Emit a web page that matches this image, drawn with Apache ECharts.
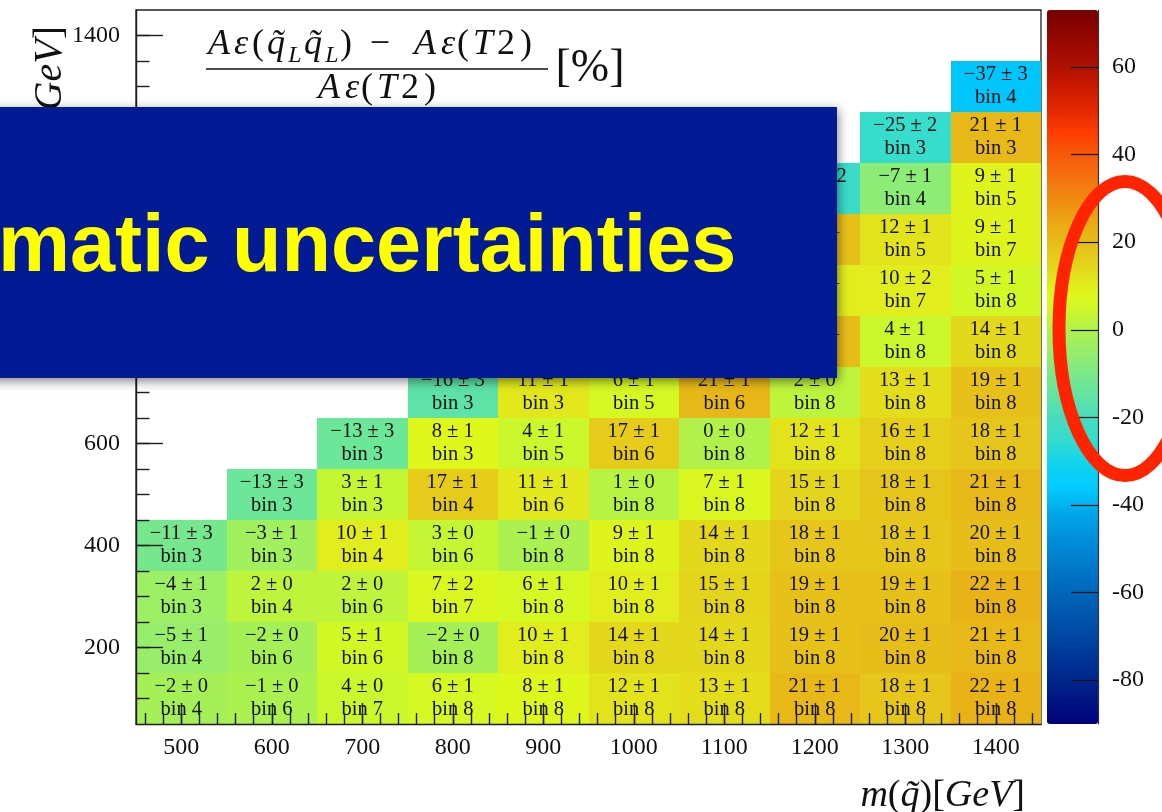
<!DOCTYPE html>
<html>
<head>
<meta charset="utf-8">
<title>Acceptance difference map</title>
<script src="https://cdn.jsdelivr.net/npm/echarts@6.0.0/dist/echarts.min.js"></script>
<style>
  html, body { margin: 0; padding: 0; background: #ffffff; }
  #chart { width: 1162px; height: 812px; }
</style>
</head>
<body>
<div id="chart"></div>
<script>
// Bin centres in GeV: squark mass (x) and LSP mass (y)
const squarkMass = [500, 600, 700, 800, 900, 1000, 1100, 1200, 1300, 1400];
const lspMass = [100, 200, 300, 400, 500, 600, 700, 800, 900, 1000, 1100, 1200, 1300];

// Relative difference of acceptance x efficiency [%], one row per LSP mass (null = no point)
const diffPct = [
  [-2, -1, 4, 6, 8, 12, 13, 21, 18, 22],
  [-5, -2, 5, -2, 10, 14, 14, 19, 20, 21],
  [-4, 2, 2, 7, 6, 10, 15, 19, 19, 22],
  [-11, -3, 10, 3, -1, 9, 14, 18, 18, 20],
  [null, -13, 3, 17, 11, 1, 7, 15, 18, 21],
  [null, null, -13, 8, 4, 17, 0, 12, 16, 18],
  [null, null, null, -16, 11, 6, 21, 2, 13, 19],
  [null, null, null, null, -15, 10, 5, 20, 4, 14],
  [null, null, null, null, null, -15, 9, 10, 10, 5],
  [null, null, null, null, null, null, -18, 19, 12, 9],
  [null, null, null, null, null, null, null, -24, -7, 9],
  [null, null, null, null, null, null, null, null, -25, 21],
  [null, null, null, null, null, null, null, null, null, -37]
];

// Statistical uncertainty on the difference [%]
const diffErr = [
  [0, 0, 0, 1, 1, 1, 1, 1, 1, 1],
  [1, 0, 1, 0, 1, 1, 1, 1, 1, 1],
  [1, 0, 0, 2, 1, 1, 1, 1, 1, 1],
  [3, 1, 1, 0, 0, 1, 1, 1, 1, 1],
  [null, 3, 1, 1, 1, 0, 1, 1, 1, 1],
  [null, null, 3, 1, 1, 1, 0, 1, 1, 1],
  [null, null, null, 3, 1, 1, 1, 0, 1, 1],
  [null, null, null, null, 3, 1, 1, 1, 1, 1],
  [null, null, null, null, null, 3, 1, 1, 2, 1],
  [null, null, null, null, null, null, 3, 1, 1, 1],
  [null, null, null, null, null, null, null, 2, 1, 1],
  [null, null, null, null, null, null, null, null, 2, 1],
  [null, null, null, null, null, null, null, null, null, 3]
];

// Most sensitive signal-region bin for each point
const signalBin = [
  [4, 6, 7, 8, 8, 8, 8, 8, 8, 8],
  [4, 6, 6, 8, 8, 8, 8, 8, 8, 8],
  [3, 4, 6, 7, 8, 8, 8, 8, 8, 8],
  [3, 3, 4, 6, 8, 8, 8, 8, 8, 8],
  [null, 3, 3, 4, 6, 8, 8, 8, 8, 8],
  [null, null, 3, 3, 5, 6, 8, 8, 8, 8],
  [null, null, null, 3, 3, 5, 6, 8, 8, 8],
  [null, null, null, null, 3, 3, 5, 6, 8, 8],
  [null, null, null, null, null, 3, 3, 5, 7, 8],
  [null, null, null, null, null, null, 3, 4, 5, 7],
  [null, null, null, null, null, null, null, 3, 4, 5],
  [null, null, null, null, null, null, null, null, 3, 3],
  [null, null, null, null, null, null, null, null, null, 4]
];

// Axis ticks
const xMajorTicks = [500, 600, 700, 800, 900, 1000, 1100, 1200, 1300, 1400];
const yMajorTicks = [200, 400, 600, 800, 1000, 1200, 1400];
const zTicks = [-80, -60, -40, -20, 0, 20, 40, 60];
const zRange = [-90, 73];

const xMinorTicks = [];
for (let v = 460; v <= 1440; v += 20) xMinorTicks.push(v);
const yMinorTicks = [];
for (let v = 100; v <= 1400; v += 50) yMinorTicks.push(v);

// Rainbow palette anchors (value, colour)
const paletteAnchors = [
  [-90, '#00007a'], [-80, '#00268a'], [-70, '#0046a2'], [-60, '#0066ba'],
  [-50, '#0086d2'], [-42, '#00a6e8'], [-36, '#00ccff'], [-30, '#14d4ec'],
  [-25, '#36dccc'], [-20, '#48dcbc'], [-15, '#62e4a2'], [-10, '#7ce888'],
  [-5, '#98ee6a'], [0, '#b0f24a'], [5, '#d2f826'], [8, '#def81c'],
  [11, '#e2e81c'], [14, '#e4d81c'], [18, '#e6c61a'], [21, '#e8b818'],
  [25, '#eca414'], [30, '#f08a10'], [35, '#f47010'], [40, '#f85a08'],
  [45, '#ff3c00'], [50, '#e42800'], [55, '#cc1a00'], [60, '#b01000'],
  [66, '#960600'], [73, '#760000']
];

function hexRgb(h) {
  return [parseInt(h.slice(1, 3), 16), parseInt(h.slice(3, 5), 16), parseInt(h.slice(5, 7), 16)];
}
function paletteAt(v) {
  for (let i = 0; i < paletteAnchors.length - 1; i++) {
    const [v0, c0] = paletteAnchors[i];
    const [v1, c1] = paletteAnchors[i + 1];
    if (v >= v0 && v <= v1) {
      const t = (v - v0) / (v1 - v0);
      const a = hexRgb(c0), b = hexRgb(c1);
      const m = a.map((x, k) => Math.round(x + (b[k] - x) * t));
      return 'rgb(' + m.join(',') + ')';
    }
  }
  return paletteAnchors[paletteAnchors.length - 1][1];
}
const paletteColors = [];
for (let v = zRange[0]; v <= zRange[1] + 1e-9; v += 0.5) paletteColors.push(paletteAt(v));

// Flatten the table into [x, y, diff, err, bin] cells
const cells = [];
lspMass.forEach((m, r) => {
  squarkMass.forEach((q, c) => {
    const d = diffPct[r][c];
    if (d === null) return;
    cells.push([q, m, d, diffErr[r][c], signalBin[r][c]]);
  });
});

const SERIF = '"Liberation Serif", "Times New Roman", serif';
const INK = '#111111';

function signed(v) {
  return v < 0 ? '\u2212' + (-v) : String(v);
}

function textEl(text, x, y, size, italic) {
  return {
    type: 'text', x: x, y: y, z: 20,
    style: {
      text: text,
      font: (italic ? 'italic ' : '') + size + 'px ' + SERIF,
      fill: INK,
      align: 'center', verticalAlign: 'middle',
      textAlign: 'center', textVerticalAlign: 'middle'
    }
  };
}

// Fraction title: numerator, bar, denominator and unit
const numMid = 45, subMid = 56, denMid = 89, fs = 36, sub = 24;
const titleParts = [
  ['A', 219, numMid, fs, true], ['\u03b5', 241, numMid, fs, true], ['(', 258, numMid, fs, false],
  ['q\u0303', 276, numMid, fs, true], ['L', 295, subMid, sub, true],
  ['q\u0303', 313, numMid, fs, true], ['L', 332, subMid, sub, true], [')', 346, numMid, fs, false],
  ['\u2212', 380, numMid, fs, false],
  ['A', 425, numMid, fs, true], ['\u03b5', 448, numMid, fs, true], ['(', 463, numMid, fs, false],
  ['T', 483, numMid, fs, true], ['2', 506, numMid, fs, false], [')', 526, numMid, fs, false],
  ['A', 329, denMid, fs, true], ['\u03b5', 352, denMid, fs, true], ['(', 367, denMid, fs, false],
  ['T', 387, denMid, fs, true], ['2', 410, denMid, fs, false], [')', 430, denMid, fs, false],
  ['[%]', 590, 69, 46, false]
];

const graphics = [
  // frame (top and right edges show where there are no cells)
  { type: 'rect', z: 0, shape: { x: 136, y: 10, width: 905, height: 714 },
    style: { fill: 'none', stroke: '#222', lineWidth: 1.3 } },
  { type: 'line', z: 20, shape: { x1: 206, y1: 69, x2: 548, y2: 69 },
    style: { stroke: INK, lineWidth: 1.6 } }
];
titleParts.forEach(p => graphics.push(textEl(p[0], p[1], p[2], p[3], p[4])));

// axis titles
graphics.push({
  type: 'text', x: 1025, y: 796, z: 20,
  style: {
    text: '{i|m}{r|(}{i|q\u0303}{r|)[}{i|GeV}{r|]}',
    align: 'right', verticalAlign: 'middle', textAlign: 'right', textVerticalAlign: 'middle',
    fill: INK,
    rich: {
      i: { fontFamily: SERIF, fontSize: 38, fontStyle: 'italic', fill: INK },
      r: { fontFamily: SERIF, fontSize: 38, fill: INK }
    }
  }
});
graphics.push({
  type: 'text', x: 50, y: 26, rotation: Math.PI / 2, z: 20,
  style: {
    text: '{i|m}{r|(}{i|\u03c7\u0303}{r|\u2070\u2081)[}{i|GeV}{r|]}',
    align: 'right', verticalAlign: 'middle', textAlign: 'right', textVerticalAlign: 'middle',
    fill: INK,
    rich: {
      i: { fontFamily: SERIF, fontSize: 40, fontStyle: 'italic', fill: INK },
      r: { fontFamily: SERIF, fontSize: 40, fill: INK }
    }
  }
});

// slide banner laid over the plot
graphics.push({
  type: 'rect', z: 50, shape: { x: -20, y: 107, width: 857, height: 271 },
  style: { fill: '#021a94', shadowBlur: 10, shadowOffsetY: 3, shadowOffsetX: 1, shadowColor: 'rgba(0,0,0,0.5)' }
});
graphics.push({
  type: 'text', x: -2, y: 249, z: 51,
  style: {
    text: 'matic uncertainties',
    font: 'bold 81px "Liberation Sans", Arial, sans-serif',
    fill: '#ffff00',
    align: 'left', verticalAlign: 'middle', textAlign: 'left', textVerticalAlign: 'middle'
  }
});
// highlight ring around the colour scale
graphics.push({
  type: 'ellipse', z: 60, shape: { cx: 1125, cy: 328.5, rx: 66, ry: 147 },
  style: { fill: 'none', stroke: '#ff2400', lineWidth: 13 }
});

const axisLineStyle = { color: '#1e1e1e', width: 1.4 };
const labelStyle = { fontFamily: SERIF, fontSize: 24, color: INK };

const option = {
  animation: false,
  backgroundColor: '#ffffff',
  grid: [
    { left: 136, top: 10, width: 905, height: 714, outerBoundsMode: 'none', containLabel: false },
    { left: 1047, top: 10, width: 51, height: 714, outerBoundsMode: 'none', containLabel: false }
  ],
  xAxis: [
    {
      gridIndex: 0, type: 'value', min: 450, max: 1450, position: 'bottom', z: 5,
      axisLine: { show: true, onZero: false, lineStyle: axisLineStyle },
      axisTick: { show: true, inside: true, length: 21, customValues: xMajorTicks, lineStyle: axisLineStyle },
      axisLabel: Object.assign({ customValues: xMajorTicks, margin: 12, formatter: v => String(v) }, labelStyle),
      splitLine: { show: false }
    },
    {
      gridIndex: 0, type: 'value', min: 450, max: 1450, position: 'bottom', z: 5,
      axisLine: { show: false, onZero: false },
      axisTick: { show: true, inside: true, length: 11, customValues: xMinorTicks, lineStyle: axisLineStyle },
      axisLabel: { show: false },
      splitLine: { show: false }
    },
    { gridIndex: 1, type: 'value', min: 0, max: 1, show: false }
  ],
  yAxis: [
    {
      gridIndex: 0, type: 'value', min: 50, max: 1450, position: 'left', z: 5,
      axisLine: { show: true, onZero: false, lineStyle: axisLineStyle },
      axisTick: { show: true, inside: true, length: 27, customValues: yMajorTicks, lineStyle: axisLineStyle },
      axisLabel: Object.assign({ customValues: yMajorTicks, margin: 16, formatter: v => String(v) }, labelStyle),
      splitLine: { show: false }
    },
    {
      gridIndex: 0, type: 'value', min: 50, max: 1450, position: 'left', z: 5,
      axisLine: { show: false, onZero: false },
      axisTick: { show: true, inside: true, length: 13.5, customValues: yMinorTicks, lineStyle: axisLineStyle },
      axisLabel: { show: false },
      splitLine: { show: false }
    },
    {
      gridIndex: 1, type: 'value', min: zRange[0], max: zRange[1], position: 'right', z: 10,
      axisLine: { show: true, onZero: false, lineStyle: { color: '#333', width: 1.2 } },
      axisTick: { show: true, inside: true, length: 27, customValues: zTicks, lineStyle: { color: '#111', width: 1.2 } },
      axisLabel: Object.assign({ customValues: zTicks, margin: 14, formatter: v => String(v) }, labelStyle),
      splitLine: { show: false }
    }
  ],
  visualMap: {
    type: 'continuous',
    min: zRange[0], max: zRange[1],
    dimension: 2, seriesIndex: 0,
    left: 1047, top: 10, padding: 0,
    itemWidth: 51, itemHeight: 714,
    calculable: false, hoverLink: false, realtime: false,
    text: null, showLabel: false,
    inRange: { color: paletteColors },
    z: 4
  },
  series: [{
    type: 'custom',
    xAxisIndex: 0, yAxisIndex: 0, z: 2,
    data: cells,
    encode: { x: 0, y: 1 },
    renderItem: function (params, api) {
      const x = api.value(0), y = api.value(1);
      const tl = api.coord([x - 50, y + 50]);
      const br = api.coord([x + 50, y - 50]);
      const x0 = Math.round(tl[0]), y0 = Math.round(tl[1]);
      const x1 = Math.round(br[0]), y1 = Math.round(br[1]);
      const cx = (tl[0] + br[0]) / 2, cy = (tl[1] + br[1]) / 2;
      const font = '20.5px ' + SERIF;
      return {
        type: 'group',
        children: [
          { type: 'rect', shape: { x: x0, y: y0, width: x1 - x0, height: y1 - y0 },
            style: { fill: api.visual('color') } },
          { type: 'text', x: cx, y: cy - 11.5,
            style: { text: signed(api.value(2)) + ' \u00b1 ' + api.value(3), font: font, fill: INK,
                     align: 'center', verticalAlign: 'middle' } },
          { type: 'text', x: cx, y: cy + 11.5,
            style: { text: 'bin ' + api.value(4), font: font, fill: INK,
                     align: 'center', verticalAlign: 'middle' } }
        ]
      };
    }
  }],
  graphic: { elements: graphics }
};

const chart = echarts.init(document.getElementById('chart'), null, { renderer: 'canvas' });
chart.setOption(option);
</script>
</body>
</html>
